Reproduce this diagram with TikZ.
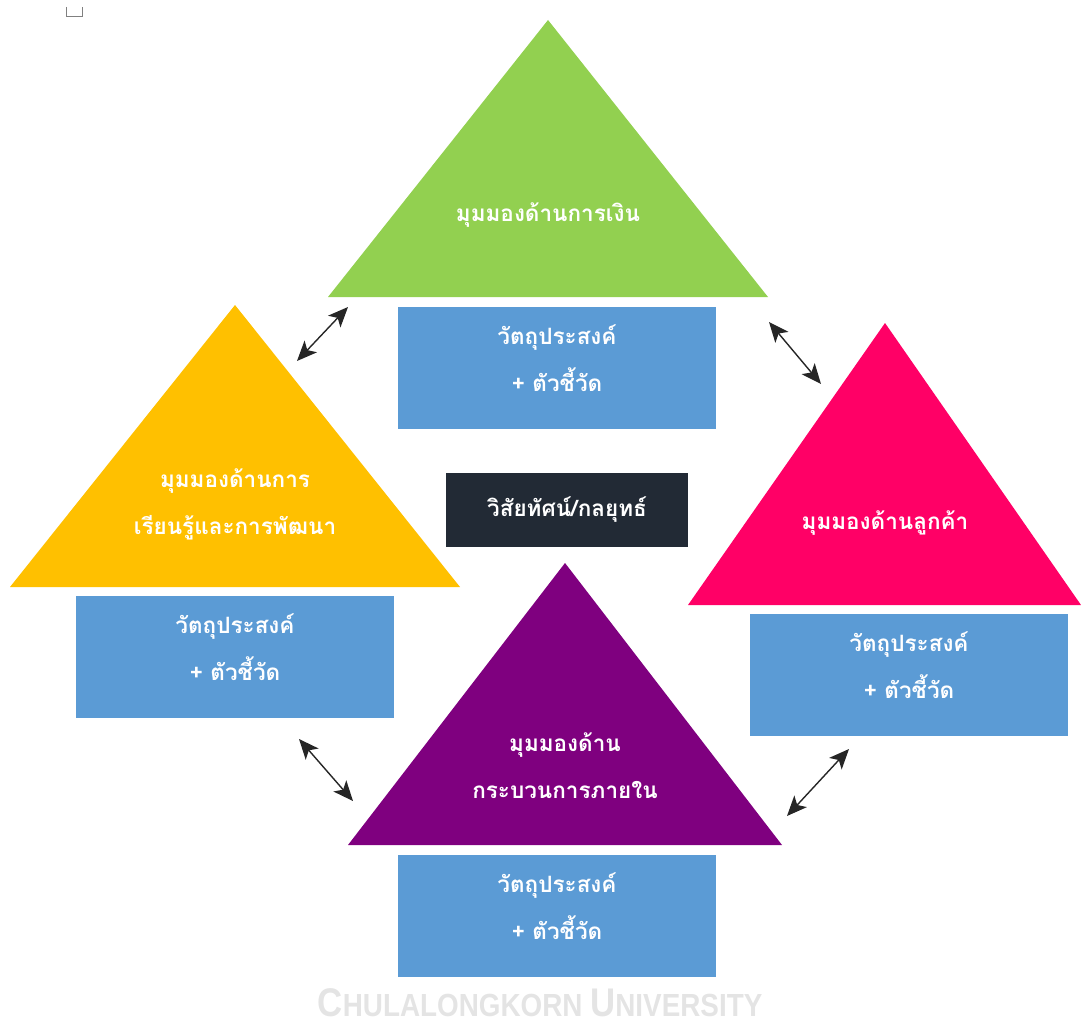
\documentclass[tikz,border=0pt]{standalone}
\usepackage{fontspec}
\newfontfamily\thaifont[Script=Thai]{Loma}
\newfontfamily\wmfont{Liberation Sans}
\usetikzlibrary{arrows.meta}
\definecolor{vert}{HTML}{92D050}
\definecolor{jaune}{HTML}{FFC000}
\definecolor{rose}{HTML}{FF0066}
\definecolor{violet}{HTML}{7F007F}
\definecolor{bleu}{HTML}{5B9BD5}
\definecolor{ardoise}{HTML}{222A35}
\definecolor{filigrane}{HTML}{E4E4E4}
\tikzset{
	texte/.style = {align=center, inner sep=0pt, text=white,
		font=\thaifont\bfseries\fontsize{22.5}{47}\selectfont},
	boite/.style = {fill=bleu, inner sep=0pt, minimum width=318pt,
		minimum height=122pt},% case objectifs + indicateurs
	vision/.style = {texte, fill=ardoise, minimum width=242pt,
		minimum height=74pt},% case centrale
	lien/.style = {>={Stealth[length=20pt,width=17pt,inset=5pt]}, <->,
		line width=1.4pt, black!85}% fleche double
}
\begin{document}
\begin{tikzpicture}[x=1pt,y=-1pt]
	\useasboundingbox (0,0) rectangle (1081,1027);
	\draw[gray, line width=0.8pt] (66,7) -- (66,16) -- (82,16) -- (82,7);
	% triangles
	\fill[vert] (548,20) -- (768,297) -- (328,297) -- cycle;
	\fill[jaune] (235,305) -- (460,587) -- (10,587) -- cycle;
	\fill[rose] (885,323) -- (1081,605) -- (688,605) -- cycle;
	\fill[violet] (565,563) -- (782,845) -- (348,845) -- cycle;
	\node[texte] (fin) at (548,215) {มุมมองด้านการเงิน};
	\node[texte] (app) at (235,504) {มุมมองด้านการ\\เรียนรู้และการพัฒนา};
	\node[texte] (cli) at (885,523) {มุมมองด้านลูกค้า};
	\node[texte] (int) at (565,766) {มุมมองด้าน\\กระบวนการภายใน};
	% cases bleues
	\node[boite] (bfin) at (557,368) {};
	\node[boite] (bapp) at (235,657) {};
	\node[boite] (bcli) at (909,675) {};
	\node[boite] (bint) at (557,916) {};
	\foreach \b in {bfin,bapp,bcli,bint}
		\node[texte] at ([yshift=10pt]\b.center) {วัตถุประสงค์\\+ ตัวชี้วัด};
	\node[vision] (vis) at (567,510) {วิสัยทัศน์/กลยุทธ์};
	% fleches
	\coordinate (a1) at (348,307); \coordinate (a2) at (297,361);
	\coordinate (b1) at (769,322); \coordinate (b2) at (821,384);
	\coordinate (c1) at (299,739); \coordinate (c2) at (353,801);
	\coordinate (d1) at (849,749); \coordinate (d2) at (787,816);
	\draw[lien] (a1) -- (a2);
	\draw[lien] (b1) -- (b2);
	\draw[lien] (c1) -- (c2);
	\draw[lien] (d1) -- (d2);
	\node[text=filigrane, inner sep=0pt, font=\wmfont\bfseries] (filig) at (540,1003)
		{\scalebox{0.87}[1]{\fontsize{40}{40}\selectfont C\fontsize{32}{32}\selectfont HULALONGKORN\ \fontsize{40}{40}\selectfont U\fontsize{32}{32}\selectfont NIVERSITY}};
\end{tikzpicture}
\end{document}
